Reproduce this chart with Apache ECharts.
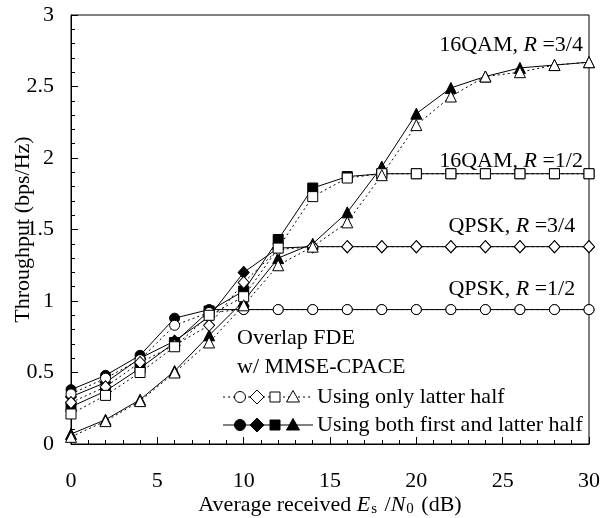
<!DOCTYPE html>
<html>
<head>
<meta charset="utf-8">
<script src="https://cdn.jsdelivr.net/npm/echarts@6/dist/echarts.min.js"></script>
<style>html,body{margin:0;padding:0;background:#fff;}#c{width:601px;height:518px;}</style>
</head>
<body>
<div id="c"></div>
<script>
// ---- data ----
const xValues = [0, 2, 4, 6, 8, 10, 12, 14, 16, 18, 20, 22, 24, 26, 28, 30];
const xTicks = [0, 5, 10, 15, 20, 25, 30];
const yTicks = [0, 0.5, 1, 1.5, 2, 2.5, 3];

// Using both first and latter half (filled markers, solid lines)
const qpskHalfBoth   = [0.38, 0.48, 0.62, 0.88, 0.94, 0.94, 0.94, 0.94, 0.94, 0.94, 0.94, 0.94, 0.94, 0.94, 0.94, 0.94];
const qpsk34Both     = [0.33, 0.43, 0.60, 0.72, 0.89, 1.20, 1.37, 1.38, 1.38, 1.38, 1.38, 1.38, 1.38, 1.38, 1.38, 1.38];
const qam16HalfBoth  = [0.26, 0.37, 0.53, 0.71, 0.93, 1.07, 1.43, 1.79, 1.87, 1.89, 1.89, 1.89, 1.89, 1.89, 1.89, 1.89];
const qam1634Both    = [0.07, 0.17, 0.31, 0.51, 0.76, 1.00, 1.30, 1.40, 1.62, 1.94, 2.31, 2.49, 2.57, 2.63, 2.65, 2.67];

// Using only latter half (open markers, dotted lines)
const qpskHalfLatter  = [0.35, 0.46, 0.59, 0.83, 0.92, 0.94, 0.94, 0.94, 0.94, 0.94, 0.94, 0.94, 0.94, 0.94, 0.94, 0.94];
const qpsk34Latter    = [0.29, 0.40, 0.57, 0.69, 0.83, 1.13, 1.36, 1.38, 1.38, 1.38, 1.38, 1.38, 1.38, 1.38, 1.38, 1.38];
const qam16HalfLatter = [0.21, 0.34, 0.50, 0.68, 0.90, 1.03, 1.37, 1.73, 1.86, 1.89, 1.89, 1.89, 1.89, 1.89, 1.89, 1.89];
const qam1634Latter   = [0.05, 0.16, 0.30, 0.50, 0.71, 0.97, 1.25, 1.38, 1.55, 1.88, 2.23, 2.43, 2.57, 2.60, 2.65, 2.67];

// curve annotations: [right-end x, centre y] in data units
const curveLabels = [
  { text: ['16QAM, ', 'R', ' =3/4'], at: [29.65, 2.79] },
  { text: ['16QAM, ', 'R', ' =1/2'], at: [29.65, 1.98] },
  { text: ['QPSK, ', 'R', ' =3/4'], at: [29.2, 1.52] },
  { text: ['QPSK, ', 'R', ' =1/2'], at: [29.2, 1.08] }
];
const legendTitle = ['Overlap FDE', 'w/ MMSE-CPACE'];
const legendRows = ['Using only latter half', 'Using both first and latter half'];

// ---- chart ----
const FONT = "'Liberation Serif', 'Times New Roman', serif";
const FS = 22;
const chart = echarts.init(document.getElementById('c'), null, { renderer: 'canvas' });

function pairs(ys) { return xValues.map((x, i) => [x, ys[i]]); }
function mk(name, ys, symbol, filled, size) {
  return {
    name: name, type: 'line', data: pairs(ys), symbol: symbol, symbolSize: size,
    showAllSymbol: true, z: filled ? 2 : 3,
    lineStyle: { color: '#000', width: 1, type: filled ? 'solid' : [2, 3] },
    itemStyle: { color: filled ? '#000' : '#fff', borderColor: '#000', borderWidth: 1 },
    emphasis: { disabled: true }, animation: false
  };
}

const series = [
  mk('qpskHalfBoth', qpskHalfBoth, 'circle', true, 10),
  mk('qpsk34Both', qpsk34Both, 'diamond', true, [11, 12]),
  mk('qam16HalfBoth', qam16HalfBoth, 'rect', true, 10),
  mk('qam1634Both', qam1634Both, 'triangle', true, 11),
  mk('qpskHalfLatter', qpskHalfLatter, 'circle', false, 10),
  mk('qpsk34Latter', qpsk34Latter, 'diamond', false, [11, 12]),
  mk('qam16HalfLatter', qam16HalfLatter, 'rect', false, 10),
  mk('qam1634Latter', qam1634Latter, 'triangle', false, 11)
];

const axisText = { color: '#000', fontFamily: FONT, fontSize: FS };

chart.setOption({
  animation: false,
  backgroundColor: '#fff',
  grid: {
    left: 71, right: 12, top: 15, bottom: 74, containLabel: false, outerBoundsMode: 'none',
    show: true, borderColor: '#000', borderWidth: 1, backgroundColor: 'transparent'
  },
  xAxis: {
    type: 'value', min: xTicks[0], max: xTicks[xTicks.length - 1], interval: xTicks[1] - xTicks[0],
    axisLine: { show: true, lineStyle: { color: '#000', width: 1 } },
    axisTick: { show: true, inside: true, length: 7, lineStyle: { color: '#000' } },
    minorTick: { show: true, splitNumber: 5, length: 4, lineStyle: { color: '#000' } },
    splitLine: { show: false },
    axisLabel: Object.assign({ margin: 26 }, axisText),
    name: 'Average received {i|E}{s|s}{n| /}{i|N}{s|0}{n| (dB)}',
    nameLocation: 'middle', nameGap: 49, nameMoveOverlap: false,
    nameTextStyle: {
      color: '#000', fontFamily: FONT, fontSize: FS,
      rich: {
        i: { fontFamily: FONT, fontSize: FS, fontStyle: 'italic', color: '#000', lineHeight: 24, verticalAlign: 'middle' },
        s: { fontFamily: FONT, fontSize: 15, color: '#000', lineHeight: 24, verticalAlign: 'bottom', padding: [0, 2, 0, 1] },
        n: { fontFamily: FONT, fontSize: FS, color: '#000', lineHeight: 24, verticalAlign: 'middle' }
      }
    }
  },
  yAxis: {
    type: 'value', min: yTicks[0], max: yTicks[yTicks.length - 1], interval: yTicks[1] - yTicks[0],
    axisLine: { show: true, lineStyle: { color: '#000', width: 1 } },
    axisTick: { show: true, inside: true, length: 7, lineStyle: { color: '#000' } },
    minorTick: { show: true, splitNumber: 5, length: 4, lineStyle: { color: '#000' } },
    splitLine: { show: false },
    axisLabel: Object.assign({ margin: 17, formatter: v => String(v) }, axisText),
    name: 'Throughput (bps/Hz)', nameLocation: 'middle', nameGap: 37, nameMoveOverlap: false,
    nameTextStyle: { color: '#000', fontFamily: FONT, fontSize: FS }
  },
  series: series
});

// ---- annotations and legend drawn as graphics ----
const graphics = [];
curveLabels.forEach(l => {
  const p = chart.convertToPixel({ gridIndex: 0 }, l.at);
  graphics.push({
    type: 'text', x: p[0], y: p[1], z: 10,
    style: {
      text: '{n|' + l.text[0] + '}{i|' + l.text[1] + '}{n|' + l.text[2] + '}',
      align: 'right', verticalAlign: 'middle',
      rich: {
        n: { fontFamily: FONT, fontSize: FS, fill: '#000' },
        i: { fontFamily: FONT, fontSize: FS, fontStyle: 'italic', fill: '#000' }
      }
    }
  });
});

const textEl = (t, x, y) => ({ type: 'text', x: x, y: y, z: 10,
  style: { text: t, fontFamily: FONT, fontSize: FS, fill: '#000', align: 'left', verticalAlign: 'middle' } });

graphics.push(textEl(legendTitle[0], 237, 338));
graphics.push(textEl(legendTitle[1], 237, 367));

function legendRow(y, filled, label) {
  const fill = filled ? '#000' : '#fff';
  const st = { fill: fill, stroke: '#000', lineWidth: 1 };
  graphics.push({ type: 'line', z: 10, shape: { x1: 223, y1: y, x2: 313, y2: y },
    style: { stroke: '#000', lineWidth: 1, lineDash: filled ? null : [2, 3] } });
  graphics.push({ type: 'circle', z: 11, shape: { cx: 240, cy: y, r: 5.5 }, style: st });
  graphics.push({ type: 'polygon', z: 11, shape: { points: [[257, y - 7], [264, y], [257, y + 7], [250, y]] }, style: st });
  graphics.push({ type: 'rect', z: 11, shape: { x: 270, y: y - 5, width: 10, height: 10 }, style: st });
  graphics.push({ type: 'polygon', z: 11, shape: { points: [[293, y - 6.5], [299.5, y + 5], [286.5, y + 5]] }, style: st });
  graphics.push(textEl(label, 317, y));
}
legendRow(397, false, legendRows[0]);
legendRow(425, true, legendRows[1]);

chart.setOption({ graphic: graphics });
</script>
</body>
</html>
